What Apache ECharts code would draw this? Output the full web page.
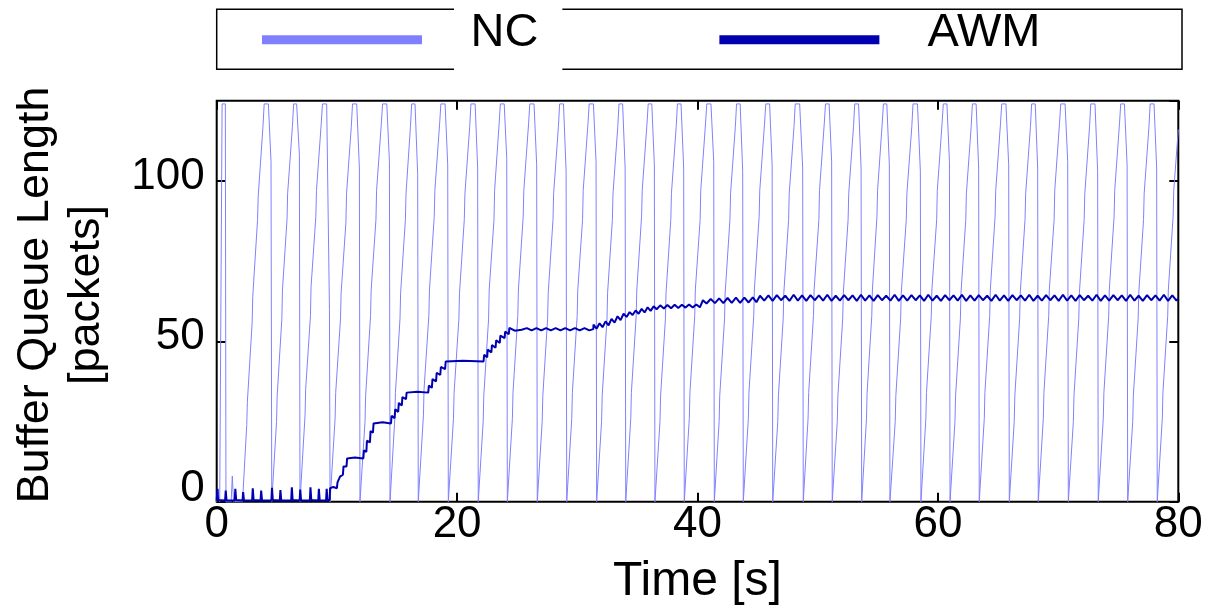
<!DOCTYPE html>
<html>
<head>
<meta charset="utf-8">
<script src="https://cdn.jsdelivr.net/npm/echarts@6/dist/echarts.min.js"></script>
<style>
html,body{margin:0;padding:0;background:#fff;}
#chart{width:1207px;height:616px;}
</style>
</head>
<body>
<div id="chart"></div>
<script>
var seriesNames = ['NC', 'AWM'];
var xTicks = [0, 20, 40, 60, 80];
var yTicks = [0, 50, 100];
var xTitle = 'Time [s]';
var yTitle = 'Buffer Queue Length\n[packets]';

// NC: [time s, queue length packets]
var ncData = [
[0,0],[0.12,4],[0.25,0],[0.4,0],[0.45,124],[0.72,124],[0.77,0],[1.2,0],[1.3,8],[1.4,0],[2.15,0],
[2.5,24],[2.55,31],[2.95,56],[3.0,64],[3.4,88],[3.45,95],[3.85,117],[3.95,124],[4.3,124],[4.52,106],[4.58,0],
[4.62,0],[4.98,25],[5.03,33],[5.42,57],[5.47,66],[5.85,88],[5.9,96],[6.3,117],[6.4,124],[6.65,124],[6.88,108],[6.93,0],
[6.97,0],[7.35,27],[7.4,35],[7.8,58],[7.85,67],[8.25,89],[8.3,97],[8.7,118],[8.8,124],[9.15,124],[9.38,60],[9.43,0],
[9.47,0],[9.85,26],[9.9,34],[10.3,57],[10.35,65],[10.75,87],[10.8,96],[11.2,117],[11.3,124],[11.65,124],[11.87,104],[11.92,0],
[11.96,0],[12.34,25],[12.39,33],[12.8,58],[12.85,66],[13.25,88],[13.3,97],[13.7,118],[13.8,124],[14.15,124],[14.37,106],[14.42,0],
[14.46,0],[14.82,26],[14.87,34],[15.25,57],[15.3,65],[15.7,88],[15.75,96],[16.12,117],[16.22,124],[16.5,124],[16.72,102],[16.77,0],
[16.81,0],[17.2,27],[17.25,35],[17.65,58],[17.7,66],[18.1,89],[18.15,97],[18.55,118],[18.65,124],[19.0,124],[19.22,105],[19.27,0],
[19.31,0],[19.7,26],[19.75,34],[20.15,57],[20.2,65],[20.6,88],[20.65,96],[21.05,117],[21.15,124],[21.5,124],[21.71,104],[21.76,0],
[21.8,0],[22.17,25],[22.22,33],[22.62,57],[22.67,66],[23.07,88],[23.12,97],[23.5,118],[23.6,124],[23.92,124],[24.13,107],[24.18,0],
[24.22,0],[24.6,26],[24.65,34],[25.05,58],[25.1,66],[25.5,89],[25.55,97],[25.95,118],[26.05,124],[26.4,124],[26.62,105],[26.67,0],
[26.71,0],[27.08,25],[27.13,33],[27.53,57],[27.58,65],[27.98,88],[28.03,96],[28.43,117],[28.53,124],[28.85,124],[29.07,103],[29.12,0],
[29.16,0],[29.54,26],[29.59,34],[29.99,58],[30.04,66],[30.44,88],[30.49,97],[30.89,118],[30.99,124],[31.34,124],[31.56,106],[31.61,0],
[31.65,0],[32.02,25],[32.07,33],[32.47,57],[32.52,65],[32.92,88],[32.97,96],[33.37,117],[33.47,124],[33.77,124],[33.98,104],[34.03,0],
[34.07,0],[34.45,26],[34.5,34],[34.9,58],[34.95,66],[35.35,89],[35.4,97],[35.8,118],[35.9,124],[36.2,124],[36.41,105],[36.46,0],
[36.5,0],[36.88,25],[36.93,33],[37.33,57],[37.38,65],[37.78,88],[37.83,96],[38.23,117],[38.33,124],[38.63,124],[38.85,104],[38.9,0],
[38.94,0],[39.32,26],[39.37,34],[39.77,58],[39.82,66],[40.22,88],[40.27,97],[40.67,118],[40.77,124],[41.12,124],[41.35,106],[41.4,0],
[41.44,0],[41.8,25],[41.85,33],[42.25,57],[42.3,65],[42.7,88],[42.75,96],[43.15,117],[43.25,124],[43.55,124],[43.76,103],[43.81,0],
[43.85,0],[44.23,26],[44.28,34],[44.68,58],[44.73,66],[45.13,89],[45.18,97],[45.58,118],[45.68,124],[46.0,124],[46.21,105],[46.26,0],
[46.3,0],[46.68,25],[46.73,33],[47.13,57],[47.18,65],[47.58,88],[47.63,96],[48.03,117],[48.13,124],[48.5,124],[48.75,104],[48.8,0],
[48.84,0],[49.2,26],[49.25,34],[49.65,58],[49.7,66],[50.1,88],[50.15,97],[50.55,118],[50.65,124],[50.95,124],[51.16,106],[51.21,0],
[51.25,0],[51.63,25],[51.68,33],[52.08,57],[52.13,65],[52.53,88],[52.58,96],[52.98,117],[53.08,124],[53.4,124],[53.61,104],[53.66,0],
[53.7,0],[54.06,26],[54.11,34],[54.5,58],[54.55,66],[54.93,89],[54.98,97],[55.37,118],[55.47,124],[55.75,124],[55.96,105],[56.01,0],
[56.05,0],[56.45,25],[56.5,33],[56.9,57],[56.95,65],[57.37,88],[57.42,96],[57.83,117],[57.93,124],[58.3,124],[58.54,103],[58.59,0],
[58.63,0],[59.0,26],[59.05,34],[59.45,58],[59.5,66],[59.9,88],[59.95,97],[60.35,118],[60.45,124],[60.75,124],[60.96,106],[61.01,0],
[61.05,0],[61.42,25],[61.47,33],[61.87,57],[61.92,65],[62.32,88],[62.37,96],[62.77,117],[62.87,124],[63.18,124],[63.39,104],[63.44,0],
[63.48,0],[63.86,26],[63.91,34],[64.31,58],[64.36,66],[64.76,89],[64.81,97],[65.21,118],[65.31,124],[65.66,124],[65.89,105],[65.94,0],
[65.98,0],[66.35,25],[66.4,33],[66.8,57],[66.85,65],[67.25,88],[67.3,96],[67.7,117],[67.8,124],[68.1,124],[68.3,104],[68.35,0],
[68.39,0],[68.77,26],[68.82,34],[69.22,58],[69.27,66],[69.67,88],[69.72,97],[70.12,118],[70.22,124],[70.58,124],[70.8,106],[70.85,0],
[70.89,0],[71.27,25],[71.32,33],[71.72,57],[71.77,65],[72.17,88],[72.22,96],[72.62,117],[72.72,124],[73.07,124],[73.29,103],[73.34,0],
[73.38,0],[73.76,26],[73.81,34],[74.21,58],[74.26,66],[74.66,89],[74.71,97],[75.11,118],[75.21,124],[75.52,124],[75.74,105],[75.79,0],
[75.83,0],[76.21,25],[76.26,33],[76.66,57],[76.71,65],[77.11,88],[77.16,96],[77.56,117],[77.66,124],[77.98,124],[78.2,104],[78.25,0],
[78.29,0],[78.67,26],[78.72,34],[79.12,58],[79.17,66],[79.57,89],[79.62,97],[80,116]
];

// AWM: [time s, queue length packets]
var awmData = [
[0,0.3],[0.05,4],[0.12,0.5],[0.7,0.4],[0.75,3.5],[0.82,0.4],[1.5,0.4],[1.55,4],[1.62,0.5],[2.15,0.4],[2.2,3],[2.27,0.4],
[2.95,0.4],[3.0,4.2],[3.07,0.5],[3.65,0.4],[3.7,3.5],[3.77,0.4],[4.55,0.4],[4.6,4.3],[4.67,0.5],[5.25,0.4],[5.3,3.6],[5.37,0.4],
[6.2,0.4],[6.25,4.5],[6.32,0.5],[6.9,0.4],[6.95,3.8],[7.02,0.4],[7.75,0.4],[7.8,4.5],[7.87,0.5],[8.45,0.4],[8.5,4],[8.57,0.4],
[9.1,0.4],[9.15,4],[9.22,0.5],[9.4,0.5],
[9.43,4.2],[9.7,4.6],[10.0,4.2],[10.05,6],[10.26,7.8],[10.5,8.4],[10.55,11],[10.8,11],[10.85,13.5],[11.5,13.8],[12.2,13.5],
[12.25,16],[12.45,15.5],[12.5,19],[12.75,18.5],[12.8,22],[13.0,21.5],[13.05,24.4],[13.8,24.8],[14.5,24.4],
[14.55,26.8],[14.8,26],[14.85,28.8],[15.1,28],[15.15,30.8],[15.4,30],[15.45,32.6],[15.75,32],[15.8,34],[16.7,34.3],[17.6,34],
[17.65,36.2],[17.9,35.5],[17.95,38.2],[18.25,37.5],[18.3,40.2],[18.6,39.5],[18.65,42],[19.0,41.3],[19.05,43.7],[20.5,43.9],[22.2,43.7],
[22.25,45.8],[22.5,45],[22.55,47.4],[22.85,46.5],[22.9,48.8],[23.2,48],[23.25,50.3],[23.55,49.5],[23.6,51.8],[23.95,51],[24.0,53],[24.3,52.2],[24.35,54.2],[24.8,53.3],[25.37,53.6],
[25.8,54.1],[26.2,53.4],[26.6,54.1],[27.0,53.4],[27.4,54.1],[27.8,53.4],[28.2,54.1],[28.6,53.4],[29.0,54.1],[29.4,53.4],[29.8,54.1],[30.2,53.4],[30.6,54.1],[31.0,53.4],[31.33,53.8],
[31.35,55.2],[31.6,53.9],[31.85,55.6],[32.1,54.4],[32.35,56.2],[32.6,55],[32.85,57],[33.1,55.8],[33.35,57.8],[33.6,56.6],[33.85,58.6],[34.1,57.6],
[34.35,59.1],[34.6,58.2],[34.85,59.6],[35.1,58.6],[35.35,60.1],[35.6,59],[35.85,60.6],[36.1,59.5],[36.35,60.9],[36.6,60],
[36.9,61.2],[37.2,60.2],[37.5,61.3],[37.8,60.3],[38.1,61.4],[38.4,60.4],[38.7,61.4],[39.0,60.5],[39.3,61.5],[39.6,60.5],[39.9,61.5],[40.2,60.6],
[40.45,62.8],[40.75,61.8],[41.1,63.2],[41.45,61.9],[41.8,63.4],[42.15,61.9],[42.5,63.5],[42.85,62],[43.2,63.6],[43.55,62],[43.9,63.6],[44.25,62.1],[44.6,63.7],[44.9,62.2],
[45.2,64.2],[45.55,62.7],[45.9,64.3],[46.25,62.6],[46.6,64.4],[46.95,62.8],[47.3,64.2],[47.65,62.6],[48.0,64.5],[48.35,62.7],[48.7,64.3],[49.05,62.6],
[49.4,64.4],[49.75,62.8],[50.1,64.3],[50.45,62.7],[50.8,64.5],[51.15,62.6],[51.5,64.2],[51.85,62.7],[52.2,64.4],[52.55,62.8],[52.9,64.3],[53.25,62.6],
[53.6,64.5],[53.95,62.7],[54.3,64.3],[54.65,62.6],[55.0,64.4],[55.35,62.8],[55.7,64.2],[56.05,62.7],[56.4,64.5],[56.75,62.6],[57.1,64.3],[57.45,62.7],
[57.8,64.4],[58.15,62.8],[58.5,64.3],[58.85,62.6],[59.2,64.5],[59.55,62.7],[59.9,64.2],[60.25,62.6],[60.6,64.4],[60.95,62.8],[61.3,64.3],[61.65,62.7],
[62.0,64.5],[62.35,62.6],[62.7,64.3],[63.05,62.7],[63.4,64.4],[63.75,62.8],[64.1,64.2],[64.45,62.6],[64.8,64.5],[65.15,62.7],[65.5,64.3],[65.85,62.6],
[66.2,64.4],[66.55,62.8],[66.9,64.3],[67.25,62.7],[67.6,64.5],[67.95,62.6],[68.3,64.2],[68.65,62.7],[69.0,64.4],[69.35,62.8],[69.7,64.3],[70.05,62.6],
[70.4,64.5],[70.75,62.7],[71.1,64.3],[71.45,62.6],[71.8,64.4],[72.15,62.8],[72.5,64.2],[72.85,62.7],[73.2,64.5],[73.55,62.6],[73.9,64.3],[74.25,62.7],
[74.6,64.4],[74.95,62.8],[75.3,64.3],[75.65,62.6],[76.0,64.5],[76.35,62.7],[76.7,64.2],[77.05,62.6],[77.4,64.4],[77.75,62.8],[78.1,64.3],[78.45,62.7],
[78.8,64.5],[79.15,62.6],[79.5,64.3],[79.85,62.7],[80,63.4]
];

var FONT = '"Liberation Sans", Arial, Helvetica, sans-serif';
var chart = echarts.init(document.getElementById('chart'), null, {renderer: 'canvas'});

function tickStyle() { return {inside: true, length: 9, lineStyle: {color: '#000', width: 2}}; }
function hiddenLine() { return {show: false, onZero: false}; }

chart.setOption({
  animation: false,
  backgroundColor: '#fff',
  grid: {left: 216.7, right: 28.7, top: 100.7, bottom: 114.3, show: true,
         borderColor: '#000', borderWidth: 2, backgroundColor: 'transparent'},
  legend: {
    data: seriesNames, top: 7.5, left: 262, padding: 0, itemGap: 157,
    itemWidth: 160, itemHeight: 9, icon: 'rect', selectedMode: false, z: 10,
    formatter: function (name) {
      return name === seriesNames[0] ? '{g| }{w|' + name + '}' : '{a|' + name + '}';
    },
    textStyle: {
      color: '#000', fontFamily: FONT, fontSize: 47,
      rich: {
        g: {width: 27, fontSize: 47, fontFamily: FONT},
        w: {backgroundColor: '#fff', padding: [2.5, 24, 15, 16.5], fontSize: 47, lineHeight: 46, fontFamily: FONT, color: '#000'},
        a: {padding: [2.5, 0, 15, 43], fontSize: 47, lineHeight: 46, fontFamily: FONT, color: '#000'}
      }
    }
  },
  graphic: [
    {type: 'rect', z: 0, shape: {x: 216.7, y: 9.3, width: 965.3, height: 60},
     style: {fill: 'none', stroke: '#000', lineWidth: 1.5}},
    {type: 'text', x: 61, y: 295, rotation: Math.PI / 2,
     style: {text: yTitle, font: '45px ' + FONT, fill: '#000',
             align: 'center', verticalAlign: 'middle', textAlign: 'center', textVerticalAlign: 'middle', lineHeight: 51}}
  ],
  xAxis: [
    {type: 'value', min: xTicks[0], max: xTicks[xTicks.length - 1], interval: xTicks[1] - xTicks[0], position: 'bottom',
     axisLine: hiddenLine(), axisTick: tickStyle(), splitLine: {show: false},
     axisLabel: {margin: 1, fontSize: 44, color: '#000', fontFamily: FONT},
     name: xTitle, nameLocation: 'middle', nameGap: 56,
     nameTextStyle: {fontSize: 48, color: '#000', fontFamily: FONT}},
    {type: 'value', min: xTicks[0], max: xTicks[xTicks.length - 1], interval: xTicks[1] - xTicks[0], position: 'top',
     axisLine: hiddenLine(), axisTick: tickStyle(), splitLine: {show: false}, axisLabel: {show: false}}
  ],
  yAxis: [
    {type: 'value', min: yTicks[0], max: 125, interval: yTicks[1] - yTicks[0], position: 'left',
     axisLine: hiddenLine(), axisTick: tickStyle(), splitLine: {show: false},
     axisLabel: {margin: 12, showMaxLabel: false, color: '#000', fontSize: 44, fontFamily: FONT,
       formatter: function (v) { return v === 0 ? '{z|0}' : (yTicks.indexOf(v) >= 0 ? '{n|' + v + '}' : ''); },
       rich: {z: {fontSize: 44, fontFamily: FONT, color: '#000', padding: [0, 0, 26, 0]},
              n: {fontSize: 44, fontFamily: FONT, color: '#000', padding: [0, 0, 8, 0]}}}},
    {type: 'value', min: yTicks[0], max: 125, interval: yTicks[1] - yTicks[0], position: 'right',
     axisLine: hiddenLine(), axisTick: tickStyle(), splitLine: {show: false}, axisLabel: {show: false}}
  ],
  series: [
    {name: seriesNames[0], type: 'line', data: ncData, xAxisIndex: 0, yAxisIndex: 0,
     showSymbol: false, symbol: 'none', color: '#8080ff', lineStyle: {color: '#8080ff', width: 1}, z: 2},
    {name: seriesNames[1], type: 'line', data: awmData, xAxisIndex: 0, yAxisIndex: 0,
     showSymbol: false, symbol: 'none', color: '#0000b0', lineStyle: {color: '#0000b0', width: 2}, z: 3}
  ]
});
</script>
</body>
</html>
